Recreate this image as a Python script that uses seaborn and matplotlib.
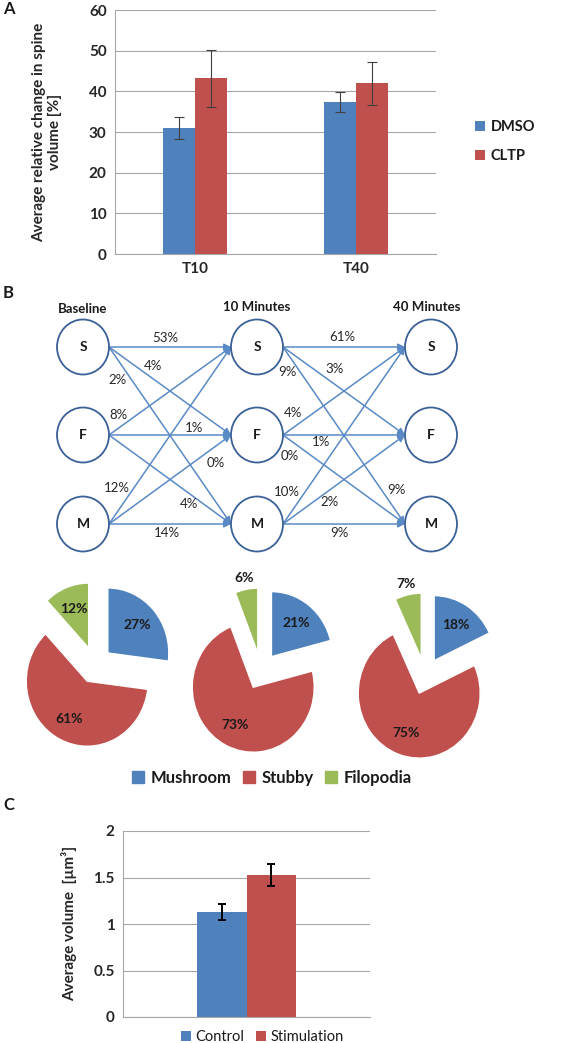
import matplotlib
matplotlib.use('Agg')
import matplotlib.pyplot as plt
from matplotlib.patches import Ellipse, Patch
import seaborn as sns
import pandas as pd
import numpy as np

# --- Painel A: mudança relativa no volume ---
time_points = ['T10', 'T40']
dmso_mean = [31.0, 37.3]
dmso_err = [2.6, 2.5]
cltp_mean = [43.2, 42.0]
cltp_err = [7.0, 5.3]

# --- Painel B: transições e distribuição ---
stages = ['Baseline', '10 Minutes', '40 Minutes']
spine_types = ['S', 'F', 'M']
trans_base_10 = [[53, 4, 2], [8, 1, 4], [12, 0, 14]]   # linhas = origem, colunas = destino
trans_10_40 = [[61, 3, 9], [4, 1, 0], [10, 2, 9]]
pie_labels = ['Mushroom', 'Stubby', 'Filopodia']
pie_baseline = [27, 61, 12]
pie_10min = [21, 73, 6]
pie_40min = [18, 75, 7]

# --- Painel C: volume médio ---
groups_c = ['Control', 'Stimulation']
volume_mean = [1.13, 1.53]
volume_err = [0.09, 0.12]

BLUE, RED, GREEN = '#4F81BD', '#C0504D', '#9BBB59'
GRID = '#A6A6A6'
W, H = 566, 1043

sns.set_style('white')
plt.rcParams['font.family'] = ['Lato', 'DejaVu Sans']
plt.rcParams['text.color'] = '#1a1a1a'

fig = plt.figure(figsize=(W / 100, H / 100), dpi=100)


def style_bar_axes(ax):
    ax.set_axisbelow(True)
    ax.yaxis.grid(True, color=GRID, lw=0.8)
    for s in ['top', 'right']:
        ax.spines[s].set_visible(False)
    ax.spines['left'].set_color(GRID)
    ax.spines['bottom'].set_color(GRID)
    ax.tick_params(length=0, pad=6)


# ---------------- Painel A ----------------
df_a = pd.DataFrame({
    'time': time_points * 2,
    'group': ['DMSO'] * 2 + ['CLTP'] * 2,
    'value': dmso_mean + cltp_mean,
})
ax_a = fig.add_axes([115 / W, 1 - 254 / H, 321 / W, 244 / H])
sns.barplot(data=df_a, x='time', y='value', hue='group', palette=[BLUE, RED],
            width=0.4, saturation=1, errorbar=None, linewidth=0, ax=ax_a)
for cont, err in zip(ax_a.containers, [dmso_err, cltp_err]):
    xs = [b.get_x() + b.get_width() / 2 for b in cont]
    ys = [b.get_height() for b in cont]
    ax_a.errorbar(xs, ys, yerr=err, fmt='none', ecolor='#404040',
                  elinewidth=0.8, capsize=3.6, capthick=0.8)
ax_a.set_xlim(-0.5, 1.5)
ax_a.set_ylim(0, 60)
ax_a.set_yticks(range(0, 61, 10), [str(v) for v in range(0, 61, 10)],
                fontweight='bold', fontsize=11)
ax_a.set_xticks([0, 1], time_points, fontweight='bold', fontsize=11)
ax_a.set_xlabel('')
ax_a.set_ylabel('Average relative change in spine\nvolume [%]', fontweight='bold', fontsize=11)
ax_a.yaxis.set_label_coords(-0.165, 0.5)
style_bar_axes(ax_a)
sns.move_legend(ax_a, 'center left', bbox_to_anchor=(1.08, 0.46), frameon=False, title='',
                handlelength=0.7, handleheight=0.7, handletextpad=0.4, labelspacing=1.0,
                prop=dict(weight='bold', size=10.5))

# ---------------- Painel B: diagrama ----------------
ax_b = fig.add_axes([0, 1 - 565 / H, 1, 275 / H])
ax_b.set_xlim(0, W)
ax_b.set_ylim(565, 290)
ax_b.axis('off')

col_x = [83, 257, 431]
row_y = [347, 435, 524]
node_rx, node_ry = 26, 27.5
header_y = [309, 307, 307]
header_x = [83, 257, 427]

# posição dos rótulos ao longo de cada seta: (fração, deslocamento vertical)
label_layout = [
    {(0, 0): [(0.46, -9)], (0, 1): [(0.36, -13)], (0, 2): [(0.074, 20)],
     (1, 0): [(0.074, -13)], (1, 1): [(0.70, -7)], (1, 2): [(0.656, 11)],
     (2, 0): [(0.066, -24)], (2, 1): [(0.877, 17)], (2, 2): [(0.475, 9)]},
    {(0, 0): [(0.49, -10)], (0, 1): [(0.426, -15)], (0, 2): [(0.033, 19), (0.926, -21)],
     (1, 0): [(0.082, -15)], (1, 1): [(0.31, 7)], (1, 2): [(0.057, 16)],
     (2, 0): [(0.033, -26)], (2, 1): [(0.385, 12)], (2, 2): [(0.46, 9)]},
]

for k, mat in enumerate([trans_base_10, trans_10_40]):
    x0 = col_x[k] + node_rx
    x1 = col_x[k + 1] - node_rx
    for i in range(3):
        for j in range(3):
            y0, y1 = row_y[i], row_y[j]
            ax_b.annotate('', xy=(x1, y1), xytext=(x0, y0),
                          arrowprops=dict(arrowstyle='-|>', color='#5A8AC6', lw=1.1,
                                          mutation_scale=10, shrinkA=0, shrinkB=0))
            for t, dy in label_layout[k][(i, j)]:
                ax_b.text(x0 + t * (x1 - x0), y0 + t * (y1 - y0) + dy, f'{mat[i][j]}%',
                          ha='center', va='center', fontsize=9.5, color='#262626')

for c, cx in enumerate(col_x):
    ax_b.text(header_x[c], header_y[c], stages[c], ha='center', va='center',
              fontsize=9.5, fontweight='bold')
    for r, cy in enumerate(row_y):
        ax_b.add_patch(Ellipse((cx, cy), 2 * node_rx, 2 * node_ry, fc='white',
                               ec='#3A6097', lw=1.3, zorder=3))
        ax_b.text(cx, cy, spine_types[r], ha='center', va='center', fontsize=10,
                  fontweight='bold', zorder=4)

# ---------------- Painel B: pizzas ----------------
pie_centers = [(95, 665), (261, 671), (425, 676)]
rx_px, ry_px = 61, 65
half = 110
for data, (cx, cy) in zip([pie_baseline, pie_10min, pie_40min], pie_centers):
    axp = fig.add_axes([(cx - half) / W, 1 - (cy + half) / H, 2 * half / W, 2 * half / H])
    wedges, texts, autotexts = axp.pie(
        data, colors=[BLUE, RED, GREEN], startangle=90, counterclock=False,
        explode=[0.28] * 3, autopct=lambda p: f'{p:.0f}%', pctdistance=0.65,
        textprops=dict(fontweight='bold', fontsize=10))
    axp.set_aspect('auto')
    axp.set_xlim(-half / rx_px, half / rx_px)
    axp.set_ylim(-half / ry_px, half / ry_px)
    # fatias pequenas: rótulo fora da fatia
    for w, at, v in zip(wedges, autotexts, data):
        if v < 8:
            ang = np.deg2rad((w.theta1 + w.theta2) / 2)
            wx, wy = w.center
            at.set_position((wx + 1.17 * np.cos(ang), wy + 1.17 * np.sin(ang)))

fig.legend(handles=[Patch(color=c, label=l) for c, l in zip([BLUE, RED, GREEN], pie_labels)],
           loc='center', bbox_to_anchor=(272 / W, 1 - 778 / H), ncol=3, frameon=False,
           prop=dict(weight='bold', size=12), handlelength=0.7, handleheight=0.7,
           handletextpad=0.4, columnspacing=0.7)

# ---------------- Painel C ----------------
df_c = pd.DataFrame({'x': [''] * 2, 'group': groups_c, 'value': volume_mean})
ax_c = fig.add_axes([123 / W, 1 - 1017 / H, 247 / W, 186 / H])
sns.barplot(data=df_c, x='x', y='value', hue='group', palette=[BLUE, RED],
            width=0.4, saturation=1, errorbar=None, linewidth=0, ax=ax_c)
for cont, err in zip(ax_c.containers, volume_err):
    xs = [b.get_x() + b.get_width() / 2 for b in cont]
    ys = [b.get_height() for b in cont]
    ax_c.errorbar(xs, ys, yerr=err, fmt='none', ecolor='black',
                  elinewidth=1.4, capsize=2.9, capthick=1.4)
ax_c.set_xlim(-0.5, 0.5)
ax_c.set_ylim(0, 2)
ax_c.set_yticks([0, 0.5, 1, 1.5, 2], ['0', '0.5', '1', '1.5', '2'],
                fontweight='bold', fontsize=11)
ax_c.set_xticks([])
ax_c.set_xlabel('')
ax_c.set_ylabel('Average volume  [µm³]', fontweight='bold', fontsize=11)
ax_c.yaxis.set_label_coords(-0.186, 0.505)
style_bar_axes(ax_c)
sns.move_legend(ax_c, 'center', bbox_to_anchor=(0.563, -0.108), ncol=2, frameon=False, title='',
                handlelength=0.7, handleheight=0.7, handletextpad=0.3, columnspacing=0.8,
                prop=dict(size=10.5))

# letras dos painéis
for letter, y in [('A', 9), ('B', 293), ('C', 805)]:
    fig.text(3 / W, 1 - y / H, letter, ha='left', va='center', fontsize=12, fontweight='bold')

fig.savefig('out.png', dpi=100)
